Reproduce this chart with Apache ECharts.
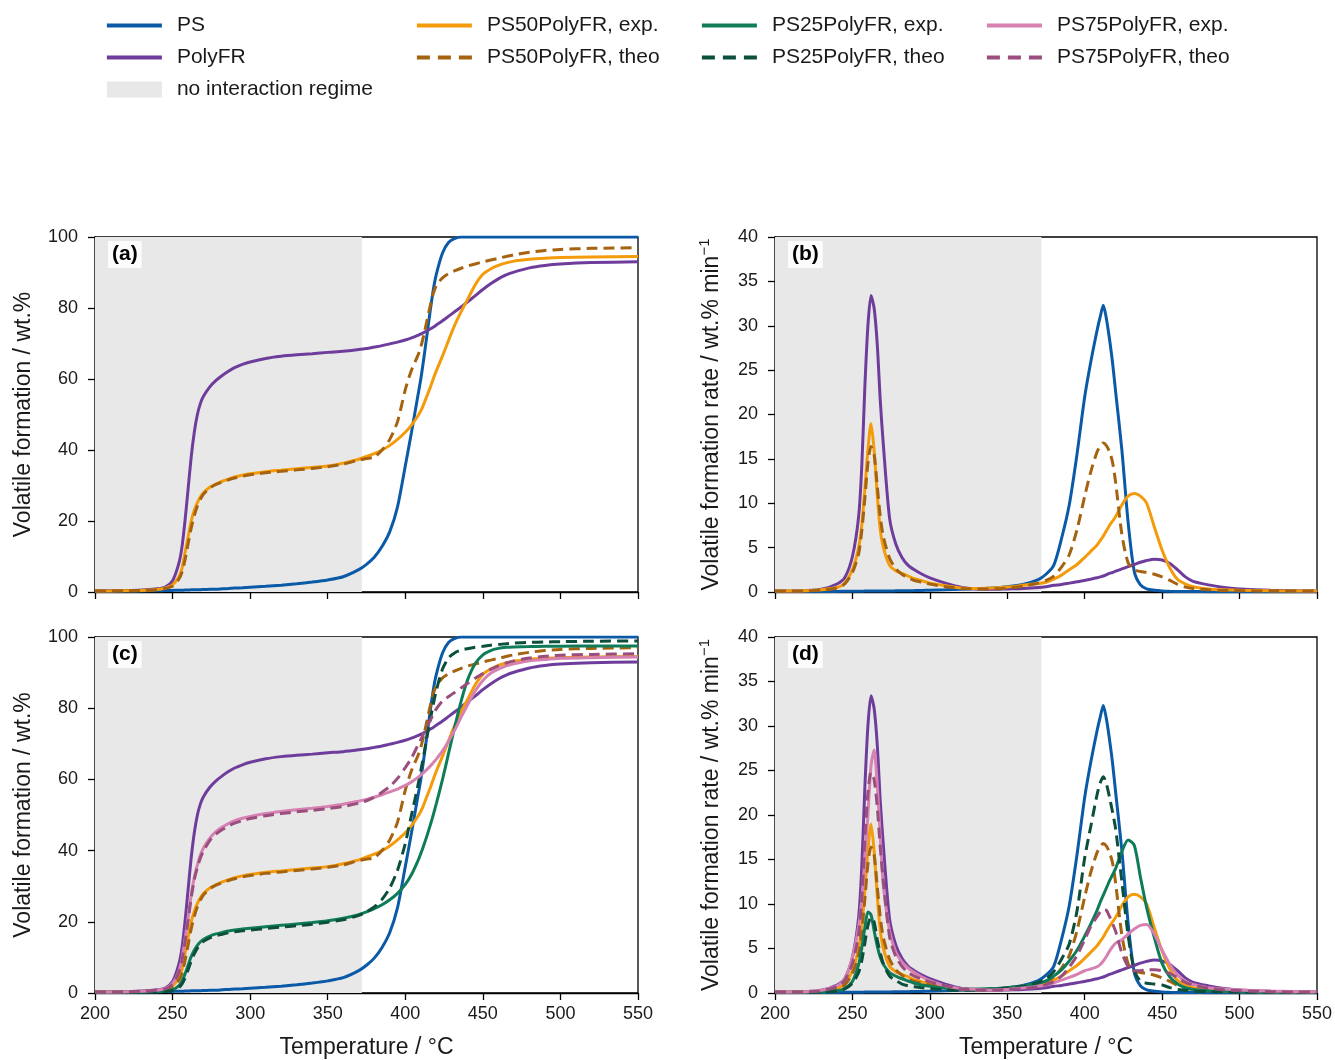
<!DOCTYPE html>
<html>
<head>
<meta charset="utf-8">
<script src="https://cdn.jsdelivr.net/npm/echarts@6/dist/echarts.min.js"></script>
<style>
  html, body { margin: 0; padding: 0; background: #ffffff; }
  #chart { width: 1335px; height: 1060px; }
</style>
</head>
<body>
<div id="chart"></div>
<script>
// Temperature grid (°C), shared by every curve
const temperatures = [200,210,220,230,240,245,250,254,256,258,
  260,262,264,266,268,270,274,278,282,286,
  290,295,300,310,320,330,340,350,360,370,
  375,380,385,390,395,400,404,408,410,412,
  414,416,418,420,424,428,432,436,440,445,
  450,455,460,465,470,480,490,500,520,550];

// Cumulative volatile formation / wt.%
const massPS = [0.2,0.2,0.25,0.3,0.35,0.4,0.45,0.5,0.5,0.55,
  0.55,0.6,0.6,0.65,0.65,0.7,0.75,0.8,0.9,1.0,
  1.1,1.2,1.35,1.6,1.9,2.3,2.8,3.4,4.3,6.3,
  7.8,9.8,12.8,17,24,35.5,45,55,60,66,
  72.5,79,85,89.5,95.5,98.5,99.6,100,100,100,
  100,100,100,100,100,100,100,100,100,100];
const massPolyFR = [0.3,0.35,0.4,0.55,0.9,1.3,3.2,8,12.5,20,
  29,38,45,50,53.2,55.2,57.8,59.6,61,62.2,
  63.2,64.1,64.8,65.8,66.4,66.8,67.1,67.5,67.8,68.3,
  68.6,69,69.4,69.9,70.4,71,71.6,72.3,72.7,73.1,
  73.6,74.1,74.6,75.2,76.4,77.7,79,80.3,81.7,83.4,
  85.2,86.8,88.2,89.3,90.1,91.3,92,92.4,92.8,93];
const massPS50exp = [0.3,0.3,0.35,0.45,0.7,1.1,2,4.2,6.5,11,
  15.5,20,23,25.2,26.8,28,29.5,30.4,31.2,31.8,
  32.4,32.9,33.3,33.9,34.3,34.7,35.1,35.5,36.3,37.4,
  38.2,39,40,41.3,43,45,47,49.5,51,53,
  55.3,57.5,60,62.3,66.5,71,75.3,79,82.3,86.5,
  89.5,91,92,92.7,93.2,93.7,94,94.2,94.4,94.5];
const massPS50theo = [0.3,0.3,0.35,0.45,0.65,1.0,1.6,3.6,5.5,9,
  13.5,18,21.5,24.2,26.2,27.6,29.3,30.3,31,31.6,
  32.1,32.6,33,33.6,34,34.4,34.8,35.3,36,37.2,
  37.6,38,40,43,48,57,62.5,66.5,69,72.5,
  76.5,80.5,84,86.3,88.5,89.7,90.5,91.2,91.8,92.4,
  93,93.5,94,94.5,95,95.7,96.2,96.5,96.8,97];
const massPS25exp = [0.2,0.2,0.25,0.3,0.35,0.5,0.9,2,3.3,5.3,
  7.8,10.2,12,13.4,14.4,15.1,16,16.6,17,17.4,
  17.7,18,18.2,18.6,19,19.4,19.8,20.3,21,22,
  22.8,23.7,24.8,26.2,28,30.5,33.3,37,39.2,41.6,
  44.2,47,50,53.2,60,67.5,75,82,87.8,92.5,
  95,96.2,96.8,97.1,97.2,97.3,97.4,97.4,97.5,97.5];
const massPS25theo = [0.2,0.2,0.25,0.3,0.35,0.45,0.7,1.5,2.5,4.2,
  6.5,9,11,12.6,13.7,14.5,15.5,16.1,16.5,16.9,
  17.2,17.5,17.7,18.1,18.5,18.9,19.3,19.9,20.6,21.8,
  22.8,24.2,26.3,29.5,34.5,42,50,58,62.5,67,
  72,76.5,81,85,91,94.2,95.6,96.3,96.7,97.1,
  97.4,97.7,97.9,98.1,98.3,98.5,98.6,98.7,98.8,98.9];
const massPS75exp = [0.3,0.3,0.35,0.5,0.8,1.2,2.7,6.2,9.5,15,
  21,27.5,32.5,36,38.8,40.8,43.5,45.3,46.6,47.6,
  48.4,49.1,49.6,50.4,51,51.5,51.9,52.4,53,53.9,
  54.4,55,55.7,56.5,57.3,58.3,59.3,60.5,61.2,62,
  62.8,63.7,64.7,65.7,68,70.8,74,77.5,80.8,84.8,
  87.8,89.8,91,91.9,92.5,93.3,93.7,94,94.2,94.4];
const massPS75theo = [0.3,0.3,0.35,0.5,0.75,1.1,2.4,5.8,9,14.3,
  20.3,26.7,31.8,35.3,38,40,42.8,44.6,45.9,46.9,
  47.7,48.4,49,49.8,50.4,50.9,51.3,51.8,52.4,53.3,
  54,55,56.4,58,60.3,63.3,66,69.5,71.2,73,
  74.8,76.5,78.2,79.8,82,83.3,84.5,85.7,86.9,88.4,
  89.7,90.9,91.9,92.7,93.3,94.1,94.6,94.9,95.1,95.3];

// Volatile formation rate / wt.% min^-1
const ratePS = [0.05,0.05,0.05,0.06,0.07,0.08,0.08,0.09,0.09,0.1,
  0.1,0.1,0.1,0.11,0.11,0.12,0.12,0.13,0.14,0.15,
  0.16,0.18,0.2,0.24,0.3,0.36,0.45,0.6,0.85,1.4,
  2.0,3.0,6.0,9.8,15.5,22,26,29.5,31,32.3,
  30.8,28.5,25.8,22.5,16,7.9,2.3,0.8,0.35,0.2,
  0.12,0.08,0.06,0.05,0.05,0.04,0.04,0.03,0.03,0.03];
const ratePolyFR = [0.1,0.12,0.15,0.3,0.9,1.6,4,8.5,14,23,
  30,33.4,32,28,21.5,16.5,8.3,5.4,3.9,3.0,
  2.5,2.0,1.6,1.0,0.55,0.35,0.3,0.35,0.4,0.5,
  0.6,0.75,0.85,1.0,1.15,1.3,1.45,1.6,1.7,1.8,
  1.95,2.1,2.2,2.35,2.6,2.85,3.1,3.35,3.55,3.7,
  3.6,3.2,2.5,1.7,1.2,0.8,0.5,0.35,0.2,0.1];
const ratePS50exp = [0.1,0.12,0.15,0.25,0.5,1.0,2.5,5,7.5,11.5,
  16,19,16,11,7,5,3.0,2.4,2.1,1.8,
  1.5,1.25,1.0,0.7,0.45,0.4,0.45,0.55,0.75,0.95,
  1.1,1.45,1.9,2.5,3.1,3.9,4.6,5.3,5.8,6.3,
  6.9,7.5,8.0,8.5,9.8,10.8,11.1,10.8,10.0,7.3,
  4.7,2.7,1.4,0.9,0.6,0.35,0.25,0.2,0.15,0.1];
const ratePS50theo = [0.1,0.1,0.12,0.2,0.45,0.9,2.2,4.3,6.8,10.5,
  14.5,16.4,15.5,12,8.5,6.2,3.8,2.6,2.0,1.6,
  1.3,1.1,0.9,0.6,0.4,0.35,0.35,0.45,0.65,1.0,
  1.3,1.8,2.8,4.2,7,10.8,13.6,15.8,16.4,16.8,
  16.5,15.8,14.6,12.3,6.5,3.3,2.5,2.3,2.2,2.0,
  1.7,1.3,0.85,0.55,0.4,0.25,0.18,0.15,0.1,0.1];
const ratePS25exp = [0.08,0.08,0.1,0.12,0.25,0.5,1.3,3.2,5,7.3,
  9.1,8.8,7.0,5.3,4.0,3.2,2.3,1.9,1.6,1.35,
  1.1,0.9,0.75,0.55,0.5,0.45,0.5,0.6,0.8,1.1,
  1.35,1.9,2.6,3.6,4.8,6.4,7.8,9.3,10.2,11,
  11.8,12.6,13.3,14,15.9,17.2,16.6,13,9.6,6.2,
  3.3,1.8,1.0,0.6,0.4,0.25,0.2,0.15,0.1,0.1];
const ratePS25theo = [0.07,0.07,0.08,0.1,0.2,0.45,1.1,2.3,3.6,5.6,
  7.6,8.5,8.0,6.0,4.5,3.3,1.9,1.4,1.0,0.8,
  0.7,0.6,0.5,0.35,0.3,0.3,0.4,0.55,0.75,1.2,
  1.6,2.4,3.8,5.5,9.2,15.2,18.8,22.3,23.6,24.3,
  23.5,22,20.3,18.4,12.5,6.5,2.6,1.3,1.1,1.0,
  0.9,0.6,0.4,0.3,0.2,0.15,0.1,0.1,0.08,0.07];
const ratePS75exp = [0.1,0.12,0.15,0.3,0.8,1.6,4.0,7.5,10.5,15,
  20,25.5,27.3,23.5,17.5,12,7,4.6,3.5,2.8,
  2.3,1.8,1.4,0.8,0.5,0.4,0.35,0.4,0.55,0.75,
  0.9,1.15,1.45,1.75,2.1,2.5,2.7,2.95,3.2,3.6,
  4.1,4.7,5.2,5.6,6.0,6.6,7.2,7.6,7.7,6.6,
  4.8,3.2,2.0,1.3,0.95,0.6,0.45,0.35,0.22,0.15];
const ratePS75theo = [0.1,0.1,0.13,0.25,0.7,1.4,3.3,6.6,10.5,17.3,
  22.5,24.8,24,21,16.3,12.5,6.3,4.1,3.0,2.3,
  1.9,1.55,1.25,0.8,0.45,0.35,0.33,0.4,0.5,0.7,
  0.95,1.3,1.9,2.9,4.2,6,7.5,8.6,9.1,9.4,
  9.3,8.6,7.8,6.9,4.5,3.0,2.5,2.5,2.6,2.6,
  2.5,2.2,1.7,1.2,0.9,0.55,0.35,0.25,0.15,0.1];

// Temperature span without interaction between the components
const regime = [200, 372];

// Axis ranges and tick steps
const tempRange = [200, 550, 50];
const massRange = [0, 100, 20];
const rateRange = [0, 40, 5];
const panelLabels = ['(a)', '(b)', '(c)', '(d)'];

const FONT = '"Liberation Sans", Arial, Helvetica, sans-serif';
const REGIME_NAME = 'no interaction regime';
const REGIME_COLOR = '#e8e8e8';

const curves = [
  { name: 'PS',                 mass: massPS,       rate: ratePS,       color: '#0b5aa8', dashed: false, inTop: true },
  { name: 'PolyFR',             mass: massPolyFR,   rate: ratePolyFR,   color: '#6e3d9c', dashed: false, inTop: true },
  { name: 'PS50PolyFR, exp.',   mass: massPS50exp,  rate: ratePS50exp,  color: '#f49b0b', dashed: false, inTop: true },
  { name: 'PS50PolyFR, theo',   mass: massPS50theo, rate: ratePS50theo, color: '#a5620f', dashed: true,  inTop: true },
  { name: 'PS25PolyFR, exp.',   mass: massPS25exp,  rate: ratePS25exp,  color: '#0e7c58', dashed: false, inTop: false },
  { name: 'PS25PolyFR, theo',   mass: massPS25theo, rate: ratePS25theo, color: '#0c4f3c', dashed: true,  inTop: false },
  { name: 'PS75PolyFR, exp.',   mass: massPS75exp,  rate: ratePS75exp,  color: '#d681b1', dashed: false, inTop: false },
  { name: 'PS75PolyFR, theo',   mass: massPS75theo, rate: ratePS75theo, color: '#9a4e7e', dashed: true,  inTop: false }
];

// Panel layout: a (top-left), b (top-right), c (bottom-left), d (bottom-right)
const panels = [
  { left: 95,  top: 237, width: 543, height: 355, kind: 'mass', bottomRow: false },
  { left: 775, top: 237, width: 542, height: 355, kind: 'rate', bottomRow: false },
  { left: 95,  top: 637, width: 543, height: 356, kind: 'mass', bottomRow: true },
  { left: 775, top: 637, width: 542, height: 356, kind: 'rate', bottomRow: true }
];

const grid = panels.map(p => ({
  left: p.left, top: p.top, width: p.width, height: p.height,
  show: true, borderColor: '#000', borderWidth: 1.3, backgroundColor: 'transparent',
  containLabel: false, outerBoundsMode: 'none'
}));

const xAxis = panels.map((p, i) => ({
  type: 'value', gridIndex: i,
  min: tempRange[0], max: tempRange[1], interval: tempRange[2],
  splitLine: { show: false },
  axisLine: { show: true, lineStyle: { color: '#000', width: 1.3 } },
  axisTick: { show: true, inside: false, length: 7, lineStyle: { color: '#000', width: 1.3 } },
  axisLabel: { show: p.bottomRow, margin: 12, fontSize: 18, color: '#1a1a1a', fontFamily: FONT },
  name: p.bottomRow ? 'Temperature / °C' : '',
  nameLocation: 'middle', nameGap: 43,
  nameTextStyle: { fontSize: 23, color: '#1a1a1a', fontFamily: FONT }
}));

const yAxis = panels.map((p, i) => {
  const r = p.kind === 'mass' ? massRange : rateRange;
  return {
    type: 'value', gridIndex: i,
    min: r[0], max: r[1], interval: r[2],
    splitLine: { show: false },
    axisLine: { show: true, lineStyle: { color: '#000', width: 1.3 } },
    axisTick: { show: true, inside: false, length: 7, lineStyle: { color: '#000', width: 1.3 } },
    axisLabel: { margin: 17, fontSize: 18, color: '#1a1a1a', fontFamily: FONT },
    name: p.kind === 'mass' ? 'Volatile formation / wt.%' : 'Volatile formation rate / wt.% min{sup|−1}',
    nameLocation: 'middle',
    nameGap: p.kind === 'mass' ? 60 : 49,
    nameRotate: 90,
    nameTextStyle: {
      fontSize: 23, color: '#1a1a1a', fontFamily: FONT,
      rich: { sup: { fontSize: 15, fontFamily: FONT, color: '#1a1a1a', padding: [0, 0, 14, 0] } }
    }
  };
});

const series = [];
panels.forEach((p, i) => {
  const yMax = p.kind === 'mass' ? massRange[1] : rateRange[1];
  const yMin = p.kind === 'mass' ? massRange[0] : rateRange[0];
  series.push({
    type: 'custom', name: REGIME_NAME, xAxisIndex: i, yAxisIndex: i,
    silent: true, z: 1,
    itemStyle: { color: REGIME_COLOR },
    encode: { x: [0, 1] },
    data: [[regime[0], regime[1]]],
    renderItem: (params, api) => {
      const a = api.coord([api.value(0), yMax]);
      const b = api.coord([api.value(1), yMin]);
      return { type: 'rect', shape: { x: a[0], y: a[1], width: b[0] - a[0], height: b[1] - a[1] },
               style: { fill: REGIME_COLOR } };
    }
  });
  curves.forEach(c => {
    if (!p.bottomRow && !c.inTop) return;
    const values = p.kind === 'mass' ? c.mass : c.rate;
    series.push({
      type: 'line', name: c.name, xAxisIndex: i, yAxisIndex: i,
      data: temperatures.map((t, k) => [t, values[k]]),
      showSymbol: false, symbol: 'none', smooth: 0.25, clip: true, z: 3,
      color: c.color,
      lineStyle: { color: c.color, width: 3, type: c.dashed ? [11, 6] : 'solid', cap: 'butt' },
      emphasis: { disabled: true },
      animation: false
    });
  });
});

// Legend: line samples only (the marker is made transparent), grey patch for the regime
const legendBase = {
  orient: 'vertical', top: 10, itemWidth: 55, itemHeight: 16, itemGap: 11,
  selectedMode: false,
  itemStyle: { opacity: 0 },
  lineStyle: { width: 3.8 },
  textStyle: { fontSize: 21, color: '#1a1a1a', fontFamily: FONT, padding: [0, 0, 0, 10] }
};
const legendEntry = name => {
  const c = curves.find(k => k.name === name);
  return c.dashed ? { name, lineStyle: { type: [13, 8], width: 3.8 } } : name;
};
const legend = [
  Object.assign({}, legendBase, { left: 100, data: [legendEntry('PS'), legendEntry('PolyFR'),
    { name: REGIME_NAME, icon: 'rect', itemStyle: { color: REGIME_COLOR, opacity: 1, borderWidth: 0 } }] }),
  Object.assign({}, legendBase, { left: 410, data: [legendEntry('PS50PolyFR, exp.'), legendEntry('PS50PolyFR, theo')] }),
  Object.assign({}, legendBase, { left: 695, data: [legendEntry('PS25PolyFR, exp.'), legendEntry('PS25PolyFR, theo')] }),
  Object.assign({}, legendBase, { left: 980, data: [legendEntry('PS75PolyFR, exp.'), legendEntry('PS75PolyFR, theo')] })
];

const graphic = panels.map((p, i) => ({
  type: 'text', left: p.left + 13, top: p.top + 4, z: 10,
  style: {
    text: panelLabels[i], font: 'bold 21px ' + FONT, fill: '#000',
    backgroundColor: 'rgba(255,255,255,0.85)', padding: [3, 4, 3, 4]
  }
}));

const chart = echarts.init(document.getElementById('chart'), null, { renderer: 'canvas' });
chart.setOption({
  animation: false,
  backgroundColor: '#ffffff',
  textStyle: { fontFamily: FONT },
  grid, xAxis, yAxis, series, legend, graphic,
  tooltip: { show: false }
});
</script>
</body>
</html>
